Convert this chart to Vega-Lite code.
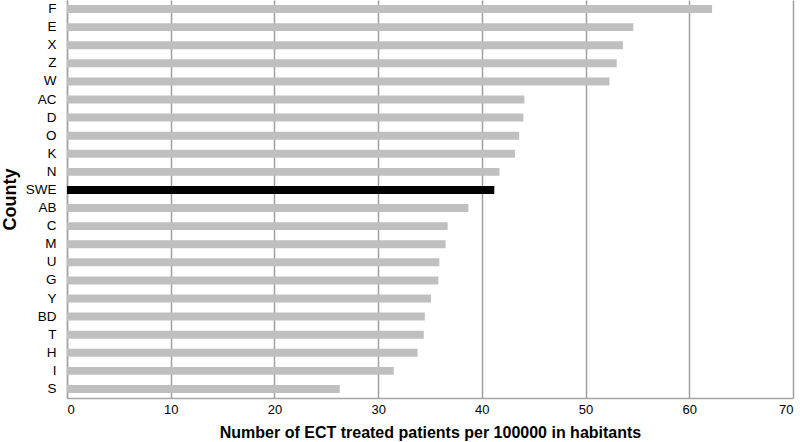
{
  "$schema": "https://vega.github.io/schema/vega-lite/v6.json",
  "width": 726,
  "height": 398,
  "autosize": {"type": "none"},
  "padding": {"left": 67, "top": 0, "right": 7, "bottom": 44},
  "background": "#ffffff",
  "config": {
    "font": "Liberation Sans",
    "view": {"stroke": null},
    "axis": {"labelFont": "Liberation Sans", "titleFont": "Liberation Sans"}
  },
  "data": {
    "values": [
      {"county": "F", "value": 62.2, "type": "County"},
      {"county": "E", "value": 54.6, "type": "County"},
      {"county": "X", "value": 53.6, "type": "County"},
      {"county": "Z", "value": 53.0, "type": "County"},
      {"county": "W", "value": 52.3, "type": "County"},
      {"county": "AC", "value": 44.1, "type": "County"},
      {"county": "D", "value": 44.0, "type": "County"},
      {"county": "O", "value": 43.6, "type": "County"},
      {"county": "K", "value": 43.2, "type": "County"},
      {"county": "N", "value": 41.7, "type": "County"},
      {"county": "SWE", "value": 41.2, "type": "Sweden"},
      {"county": "AB", "value": 38.7, "type": "County"},
      {"county": "C", "value": 36.7, "type": "County"},
      {"county": "M", "value": 36.5, "type": "County"},
      {"county": "U", "value": 35.9, "type": "County"},
      {"county": "G", "value": 35.8, "type": "County"},
      {"county": "Y", "value": 35.1, "type": "County"},
      {"county": "BD", "value": 34.5, "type": "County"},
      {"county": "T", "value": 34.4, "type": "County"},
      {"county": "H", "value": 33.8, "type": "County"},
      {"county": "I", "value": 31.5, "type": "County"},
      {"county": "S", "value": 26.3, "type": "County"}
    ]
  },
  "mark": {"type": "bar"},
  "encoding": {
    "y": {
      "field": "county",
      "type": "nominal",
      "sort": null,
      "scale": {"paddingInner": 0.56, "paddingOuter": 0.28},
      "axis": {
        "title": "County",
        "titleFontSize": 18,
        "titleFontWeight": "bold",
        "titleColor": "#000000",
        "titlePadding": 6,
        "labelFontSize": 13.5,
        "labelColor": "#000000",
        "labelPadding": 11,
        "ticks": false,
        "domainColor": "#a6a6a6",
        "domainWidth": 1.5,
        "grid": false
      }
    },
    "x": {
      "field": "value",
      "type": "quantitative",
      "scale": {"domain": [0, 70], "nice": false},
      "axis": {
        "title": "Number of ECT treated patients per 100000 in habitants",
        "titleFontSize": 16,
        "titleFontWeight": "bold",
        "titleColor": "#000000",
        "titlePadding": 8,
        "values": [0, 10, 20, 30, 40, 50, 60, 70],
        "labelFontSize": 13,
        "labelColor": "#000000",
        "labelPadding": 5,
        "ticks": false,
        "domainColor": "#a6a6a6",
        "domainWidth": 1.5,
        "grid": true,
        "gridColor": "#a0a0a0",
        "gridWidth": 1.5,
        "gridOpacity": 1
      }
    },
    "color": {
      "field": "type",
      "type": "nominal",
      "scale": {"domain": ["County", "Sweden"], "range": ["#bfbfbf", "#000000"]},
      "legend": null
    }
  }
}
